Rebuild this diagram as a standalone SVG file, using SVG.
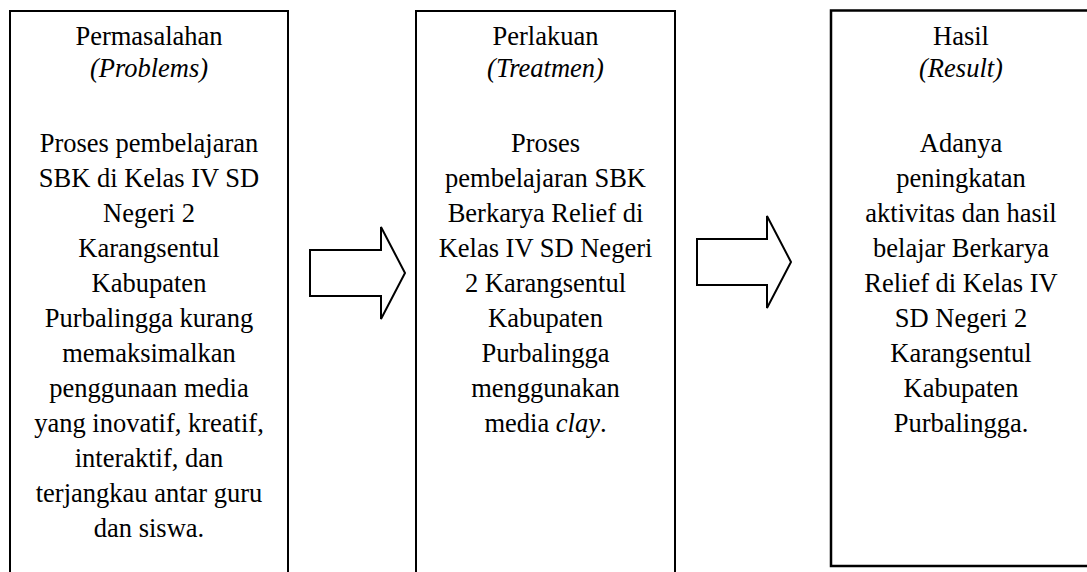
<svg xmlns="http://www.w3.org/2000/svg" width="1087" height="572" viewBox="0 0 1087 572">
<style>
.box{fill:#fff;stroke:#000;stroke-width:2}
.arrow{fill:#fff;stroke:#000;stroke-width:2;stroke-linejoin:miter}
text{font-family:"Liberation Serif","Times New Roman",serif;font-size:26.5px;fill:#000;text-anchor:middle}
.i{font-style:italic}
</style>
<rect width="1087" height="572" fill="#fff"/>
<g id="node-problems">
<rect class="box" x="10" y="11" width="278" height="580"/>
<text x="149" y="45">Permasalahan</text>
<text x="149" y="77" class="i">(Problems)</text>
<text x="149" y="151.7">Proses pembelajaran</text>
<text x="149" y="186.7">SBK di Kelas IV SD</text>
<text x="149" y="221.7">Negeri 2</text>
<text x="149" y="256.7">Karangsentul</text>
<text x="149" y="291.7">Kabupaten</text>
<text x="149" y="326.7">Purbalingga kurang</text>
<text x="149" y="361.7">memaksimalkan</text>
<text x="149" y="396.7">penggunaan media</text>
<text x="149" y="431.7">yang inovatif, kreatif,</text>
<text x="149" y="466.7">interaktif, dan</text>
<text x="149" y="501.7">terjangkau antar guru</text>
<text x="149" y="536.7">dan siswa.</text>
</g>
<g id="node-treatment">
<rect class="box" x="416" y="11" width="259" height="580"/>
<text x="545.5" y="45">Perlakuan</text>
<text x="545.5" y="77" class="i">(Treatmen)</text>
<text x="545.5" y="151.7">Proses</text>
<text x="545.5" y="186.7">pembelajaran SBK</text>
<text x="545.5" y="221.7">Berkarya Relief di</text>
<text x="545.5" y="256.7">Kelas IV SD Negeri</text>
<text x="545.5" y="291.7">2 Karangsentul</text>
<text x="545.5" y="326.7">Kabupaten</text>
<text x="545.5" y="361.7">Purbalingga</text>
<text x="545.5" y="396.7">menggunakan</text>
<text x="545.5" y="431.7">media <tspan class="i">clay</tspan>.</text>
</g>
<g id="node-result">
<rect class="box" x="831" y="10.5" width="260" height="555.5" style="stroke-width:2.5"/>
<text x="961" y="45">Hasil</text>
<text x="961" y="77" class="i">(Result)</text>
<text x="961" y="151.7">Adanya</text>
<text x="961" y="186.7">peningkatan</text>
<text x="961" y="221.7">aktivitas dan hasil</text>
<text x="961" y="256.7">belajar Berkarya</text>
<text x="961" y="291.7">Relief di Kelas IV</text>
<text x="961" y="326.7">SD Negeri 2</text>
<text x="961" y="361.7">Karangsentul</text>
<text x="961" y="396.7">Kabupaten</text>
<text x="961" y="431.7">Purbalingga.</text>
</g>
<g id="connectors">
<polygon class="arrow" points="310,250 381,250 381,227 405,273 381,319 381,296 310,296"/>
<polygon class="arrow" points="697,239 767,239 767,216 791,262 767,308 767,285 697,285"/>
</g>
</svg>
